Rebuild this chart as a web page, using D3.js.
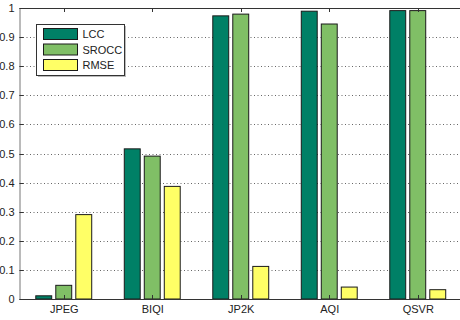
<!DOCTYPE html>
<html>
<head>
<meta charset="utf-8">
<script src="https://cdn.jsdelivr.net/npm/d3@7"></script>
<style>
  html, body { margin: 0; padding: 0; background: #fff; }
  svg { display: block; }
  text { font-family: "Liberation Sans", Arial, sans-serif; font-size: 11px; fill: #222; }
</style>
</head>
<body>
<svg id="chart" width="460" height="320"></svg>
<script>
// Quality metrics per method
const categories = ["JPEG", "BIQI", "JP2K", "AQI", "QSVR"];
const seriesNames = ["LCC", "SROCC", "RMSE"];
const lcc   = [0.011, 0.516, 0.973, 0.989, 0.991];
const srocc = [0.047, 0.491, 0.979, 0.945, 0.991];
const rmse  = [0.290, 0.387, 0.112, 0.041, 0.032];
const yTicks = [0, 0.1, 0.2, 0.3, 0.4, 0.5, 0.6, 0.7, 0.8, 0.9, 1];
const colors = ["#008066", "#80bf66", "#ffff66"];

const series = [lcc, srocc, rmse];

const svg = d3.select("#chart");
const plotL = 19.5, plotR = 462, plotT = 8, plotB = 299;

// Category positions 1..n, axis spans 0.5..n+0.5
const x = d3.scaleLinear().domain([0.5, categories.length + 0.5]).range([plotL, plotR]);
const y = d3.scaleLinear().domain([0, 1]).range([plotB, plotT]);

const unit = x(2) - x(1);
const pitch = 0.226 * unit;
const barW = 0.18 * unit;

// Dotted grid
svg.append("g")
  .selectAll("line")
  .data(yTicks.filter(t => t > 0 && t < 1))
  .join("line")
  .attr("x1", plotL).attr("x2", plotR)
  .attr("y1", d => Math.round(y(d)) + 0.5).attr("y2", d => Math.round(y(d)) + 0.5)
  .attr("stroke", "#666").attr("stroke-width", 1)
  .attr("stroke-dasharray", "1,2.5");

// Bars
const groups = svg.append("g");
series.forEach((vals, si) => {
  groups.append("g")
    .selectAll("rect")
    .data(vals)
    .join("rect")
    .attr("x", (d, i) => x(i + 1) + (si - 1) * pitch - barW / 2)
    .attr("width", barW)
    .attr("y", d => y(d))
    .attr("height", d => y(0) - y(d))
    .attr("fill", colors[si])
    .attr("stroke", "#1a1a1a")
    .attr("stroke-width", 1);
});

// Axes box
svg.append("line").attr("x1", plotL).attr("x2", plotR).attr("y1", plotT + 0.5).attr("y2", plotT + 0.5)
  .attr("stroke", "#333");
svg.append("line").attr("x1", plotL).attr("x2", plotR).attr("y1", plotB + 0.5).attr("y2", plotB + 0.5)
  .attr("stroke", "#333");
svg.append("line").attr("x1", plotL + 0.5).attr("x2", plotL + 0.5).attr("y1", plotT).attr("y2", plotB + 1)
  .attr("stroke", "#777");

// Y axis labels
const yAxis = d3.axisLeft(y).tickValues(yTicks).tickSize(0).tickPadding(5)
  .tickFormat(d => d === 0 ? "0" : d === 1 ? "1" : d3.format(".1f")(d));
const yg = svg.append("g").attr("transform", `translate(${plotL},0)`).call(yAxis);
yg.select(".domain").remove();
yg.selectAll("text").style("font-family", "Liberation Sans, Arial, sans-serif").style("font-size", "11px").attr("fill", "#222");
svg.append("g").selectAll("line").data(yTicks).join("line")
  .attr("x1", plotL).attr("x2", plotL + 4)
  .attr("y1", d => Math.round(y(d)) + 0.5).attr("y2", d => Math.round(y(d)) + 0.5)
  .attr("stroke", "#333");

// X axis labels and inward ticks top and bottom
const xAxis = d3.axisBottom(x).tickValues(d3.range(1, categories.length + 1))
  .tickSize(0).tickPadding(6).tickFormat(d => categories[d - 1]);
const xg = svg.append("g").attr("transform", `translate(0,${plotB})`).call(xAxis);
xg.select(".domain").remove();
xg.selectAll("text").style("font-family", "Liberation Sans, Arial, sans-serif").style("font-size", "11px").attr("fill", "#222");
const tickPos = d3.range(1, categories.length + 1);
svg.append("g").selectAll("line").data(tickPos).join("line")
  .attr("x1", d => Math.round(x(d)) + 0.5).attr("x2", d => Math.round(x(d)) + 0.5)
  .attr("y1", plotT).attr("y2", plotT + 4).attr("stroke", "#333");
svg.append("g").selectAll("line").data(tickPos).join("line")
  .attr("x1", d => Math.round(x(d)) + 0.5).attr("x2", d => Math.round(x(d)) + 0.5)
  .attr("y1", plotB - 4).attr("y2", plotB).attr("stroke", "#333");

// Legend
const lg = svg.append("g").attr("transform", "translate(36.5,24.5)");
lg.append("rect").attr("x", 1.5).attr("y", 1.5).attr("width", 88).attr("height", 51).attr("fill", "#bbb");
lg.append("rect").attr("width", 88).attr("height", 51).attr("fill", "#fff").attr("stroke", "#333");
seriesNames.forEach((name, i) => {
  const row = lg.append("g").attr("transform", `translate(7,${4 + i * 15.5})`);
  row.append("rect").attr("width", 34).attr("height", 11)
    .attr("fill", colors[i]).attr("stroke", "#1a1a1a");
  row.append("text").attr("x", 39).attr("y", 9.5).text(name);
});
</script>
</body>
</html>
